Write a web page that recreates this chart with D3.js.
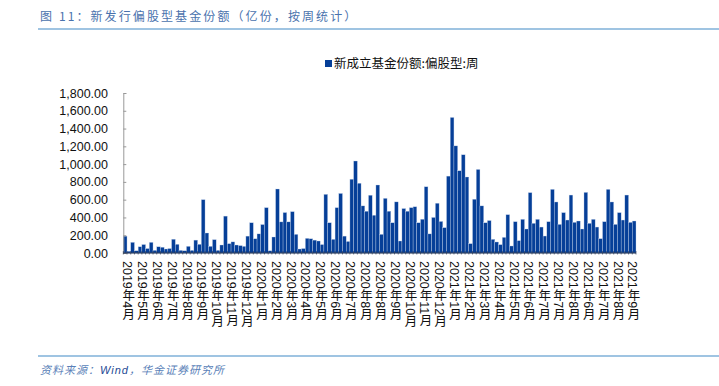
<!DOCTYPE html>
<html>
<head>
<meta charset="utf-8">
<script src="https://cdn.jsdelivr.net/npm/d3@7"></script>
<style>
  body { margin: 0; background: #fff; }
  svg { display: block; font-family: "Liberation Sans", Arial, "Noto Sans CJK SC", sans-serif; }
</style>
</head>
<body>
<svg id="chart" width="719" height="386"></svg>
<script>
// weekly new fund shares (100m units)
const values = [
  190, 20, 120, 25, 70, 95, 50, 120, 30, 70, 65, 45, 50, 155, 98, 30, 25, 75, 30, 145,
  98, 600, 225, 75, 150, 30, 90, 415, 105, 125, 90, 83, 75, 190, 340, 160, 215, 320, 510, 25,
  180, 720, 350, 455, 350, 465, 210, 45, 50, 165, 160, 145, 135, 95, 660, 340, 154, 510, 670, 190,
  130, 830, 1035, 785, 530, 470, 650, 425, 765, 210, 615, 470, 340, 575, 135, 500, 470, 510, 520, 340,
  380, 745, 215, 400, 560, 355, 285, 865, 1525, 1205, 925, 1105, 855, 105, 605, 940, 530, 340, 365, 154,
  124, 94, 176, 431, 79, 352, 139, 379, 270, 679, 334, 379, 292, 191, 352, 716, 574, 322, 454, 371,
  652, 345, 360, 270, 682, 334, 379, 292, 161, 352, 716, 574, 322, 454, 371, 652, 345, 360
];

// one label every 4th week
const tickLabels = [
  "2019年4月", "2019年5月", "2019年6月", "2019年7月", "2019年8月", "2019年9月", "2019年10月", "2019年11月", "2019年12月",
  "2020年1月", "2020年2月", "2020年3月", "2020年4月", "2020年5月", "2020年6月", "2020年7月", "2020年8月", "2020年8月",
  "2020年9月", "2020年10月", "2020年11月", "2020年12月",
  "2021年1月", "2021年2月", "2021年3月", "2021年4月", "2021年5月", "2021年6月", "2021年7月", "2021年7月", "2021年8月",
  "2021年6月", "2021年7月", "2021年8月", "2021年9月"
];
const labelEvery = 4;

const yTicks = [0, 200, 400, 600, 800, 1000, 1200, 1400, 1600, 1800];
const seriesName = "新成立基金份额:偏股型:周";

const svg = d3.select("#chart");
const plot = { left: 123.3, right: 636, top: 93, bottom: 253 };

// title + rules
svg.append("text")
   .attr("x", 40).attr("y", 21)
   .attr("font-family", "'Noto Sans CJK SC', sans-serif")
   .attr("font-size", 12).attr("letter-spacing", 2.1)
   .attr("fill", "#4a72ad")
   .text("图 11：新发行偏股型基金份额（亿份，按周统计）");

svg.append("rect").attr("x", 38).attr("y", 28).attr("width", 681).attr("height", 2).attr("fill", "#9fc4e2");
svg.append("rect").attr("x", 38).attr("y", 355).attr("width", 681).attr("height", 2).attr("fill", "#9fc4e2");

const src = svg.append("text")
   .attr("x", 40).attr("y", 374)
   .attr("font-family", "'Noto Sans CJK SC', sans-serif")
   .attr("font-size", 11).attr("font-style", "italic").attr("letter-spacing", 1);
src.append("tspan").attr("fill", "#5a7fb8").text("资料来源：");
src.append("tspan").attr("fill", "#1d4a94").attr("font-family", "'Liberation Sans', sans-serif").text("Wind");
src.append("tspan").attr("fill", "#5a7fb8").text("，华金证券研究所");

// scales
const x = d3.scaleBand()
            .domain(d3.range(values.length))
            .range([plot.left, plot.right])
            .padding(0);

const y = d3.scaleLinear()
            .domain([0, 1800])
            .range([plot.bottom, plot.top]);

// legend
const legend = svg.append("g").attr("transform", "translate(325,60)");
legend.append("rect").attr("width", 7).attr("height", 7).attr("fill", "#063f98");
legend.append("text")
      .attr("x", 9).attr("y", 7.5)
      .attr("font-family", "'Noto Sans CJK SC', sans-serif")
      .attr("font-size", 12.5).attr("fill", "#111")
      .text(seriesName);

// bars
svg.append("g")
   .selectAll("rect")
   .data(values)
   .enter().append("rect")
   .attr("x", (d, i) => x(i))
   .attr("y", d => y(d))
   .attr("width", x.bandwidth())
   .attr("height", d => y(0) - y(d))
   .attr("fill", "#063f98")
   .attr("stroke", "#c7d5ea")
   .attr("stroke-width", 0.35);

// y axis
const yAxis = svg.append("g")
   .attr("transform", `translate(${plot.left},0)`)
   .call(d3.axisRight(y).tickValues(yTicks).tickSize(3).tickFormat(""));
yAxis.select(".domain").attr("stroke", "#999");
yAxis.selectAll(".tick line").attr("stroke", "#999");

svg.append("g")
   .selectAll("text")
   .data(yTicks)
   .enter().append("text")
   .attr("x", 108)
   .attr("y", d => y(d) + 4.5)
   .attr("text-anchor", "end")
   .attr("font-size", 12.5)
   .attr("fill", "#111")
   .text(d => d3.format(",.2f")(d));

// x axis: a tick at every week boundary
const xAxis = svg.append("g").attr("transform", `translate(0,${plot.bottom})`);
xAxis.append("line")
     .attr("x1", plot.left).attr("x2", plot.right)
     .attr("stroke", "#1a2a4a").attr("stroke-width", 1);
xAxis.selectAll(".wk")
     .data(d3.range(values.length + 1))
     .enter().append("line")
     .attr("x1", i => plot.left + i * x.step()).attr("x2", i => plot.left + i * x.step())
     .attr("y1", -2).attr("y2", 1.5)
     .attr("stroke", "#1a2a4a").attr("stroke-width", 0.6);

// vertical month labels
svg.append("g")
   .selectAll("text")
   .data(tickLabels)
   .enter().append("text")
   .attr("x", (d, i) => x(i * labelEvery) + x.bandwidth() / 2 + 2)
   .attr("y", 261)
   .attr("font-family", "'Liberation Sans', 'Noto Sans CJK SC', sans-serif")
   .attr("font-size", 12.5)
   .attr("fill", "#111")
   .style("writing-mode", "vertical-rl")
   .style("text-orientation", "mixed")
   .text(d => d);
</script>
</body>
</html>
